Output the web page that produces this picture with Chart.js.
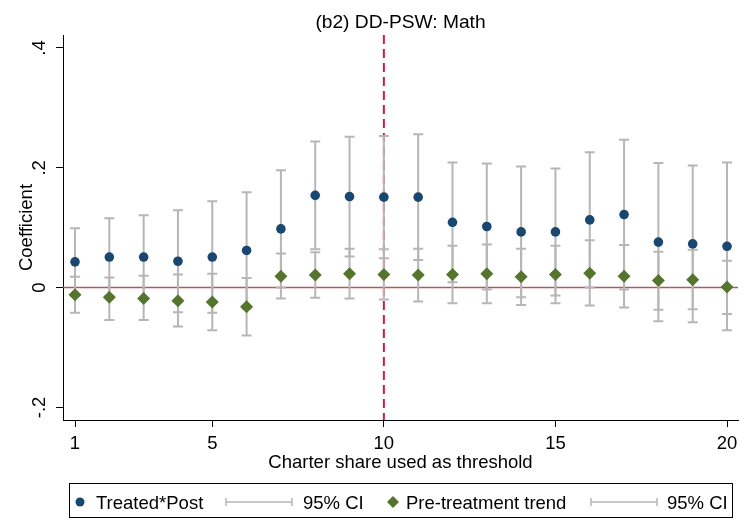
<!DOCTYPE html>
<html><head><meta charset="utf-8">
<script src="https://cdn.jsdelivr.net/npm/chart.js@4.4.0/dist/chart.umd.min.js"></script>
<style>html,body{margin:0;padding:0;background:#fff;} canvas{display:block;}</style>
</head><body>
<canvas id="c" width="746" height="520"></canvas>
<script>
const thresholds = [1,2,3,4,5,6,7,8,9,10,11,12,13,14,15,16,17,18,19,20];
const treatedEst  = [0.043,0.051,0.051,0.044,0.051,0.062,0.098,0.154,0.152,0.151,0.151,0.109,0.102,0.093,0.093,0.113,0.122,0.076,0.073,0.069];
const treatedLow  = [-0.013,-0.014,-0.019,-0.041,-0.042,-0.035,0.000,0.064,0.052,0.049,0.046,0.009,-0.003,-0.016,-0.013,0.000,-0.003,-0.056,-0.058,-0.071];
const treatedHigh = [0.099,0.116,0.121,0.129,0.144,0.159,0.196,0.244,0.252,0.253,0.256,0.209,0.207,0.202,0.199,0.226,0.247,0.208,0.204,0.209];
const preEst  = [-0.012,-0.016,-0.018,-0.022,-0.024,-0.032,0.019,0.021,0.023,0.022,0.021,0.022,0.023,0.018,0.022,0.024,0.019,0.012,0.013,0.001];
const preLow  = [-0.042,-0.054,-0.054,-0.065,-0.071,-0.080,-0.018,-0.017,-0.018,-0.020,-0.023,-0.026,-0.026,-0.029,-0.026,-0.030,-0.033,-0.037,-0.036,-0.044];
const preHigh = [0.018,0.017,0.020,0.022,0.023,0.016,0.057,0.059,0.065,0.064,0.065,0.070,0.072,0.065,0.070,0.079,0.071,0.060,0.063,0.045];
const xTickValues = [1,5,10,15,20];
const xTickLabels = ['1','5','10','15','20'];
const yTickValues = [-0.2,0,0.2,0.4];
const yTickLabels = ['-.2','0','.2','.4'];
const titleText = '(b2) DD-PSW: Math';
const xAxisTitle = 'Charter share used as threshold';
const yAxisTitle = 'Coefficient';
const legendLabels = ['Treated*Post','95% CI','Pre-treatment trend','95% CI'];
const thresholdLine = 10;
const zeroLine = 0;

const FONT = '"Liberation Sans", Arial, sans-serif';
const BLUE = '#1a476f', GREEN = '#55752f', GRAY = '#b6b6b6';

function drawCIs(ctx, xs, ys, lo, hi) {
  ctx.strokeStyle = GRAY; ctx.lineWidth = 2;
  for (let i = 0; i < thresholds.length; i++) {
    const px = xs.getPixelForValue(thresholds[i]);
    const y1 = ys.getPixelForValue(lo[i]);
    const y2 = ys.getPixelForValue(hi[i]);
    ctx.beginPath();
    ctx.moveTo(px, y1); ctx.lineTo(px, y2);
    ctx.moveTo(px - 5, y1); ctx.lineTo(px + 5, y1);
    ctx.moveTo(px - 5, y2); ctx.lineTo(px + 5, y2);
    ctx.stroke();
  }
}

const decor = {
  id: 'decor',
  beforeDatasetsDraw(chart) {
    const {ctx, chartArea: a, scales: {x, y}} = chart;
    ctx.save();
    const y0 = y.getPixelForValue(zeroLine);
    ctx.strokeStyle = '#b5585c'; ctx.lineWidth = 1.5;
    ctx.beginPath(); ctx.moveTo(a.left, y0); ctx.lineTo(a.right, y0); ctx.stroke();
    const xv = x.getPixelForValue(thresholdLine);
    ctx.strokeStyle = '#d11a4a'; ctx.lineWidth = 2; ctx.setLineDash([9, 5]);
    ctx.beginPath(); ctx.moveTo(xv, a.top); ctx.lineTo(xv, a.bottom); ctx.stroke();
    ctx.setLineDash([]);
    drawCIs(ctx, x, y, treatedLow, treatedHigh);
    drawCIs(ctx, x, y, preLow, preHigh);
    ctx.restore();
  },
  afterDraw(chart) {
    const {ctx, chartArea: a, scales: {x, y}} = chart;
    ctx.save();
    ctx.fillStyle = '#000';
    // title
    ctx.font = '19.2px ' + FONT; ctx.textAlign = 'center'; ctx.textBaseline = 'alphabetic';
    ctx.fillText(titleText, (a.left + a.right) / 2, 27.5);
    // x tick labels
    ctx.font = '18.5px ' + FONT;
    xTickValues.forEach((v, i) => ctx.fillText(xTickLabels[i], x.getPixelForValue(v), 449));
    ctx.fillText(xAxisTitle, (a.left + a.right) / 2, 468);
    // y tick labels rotated
    yTickValues.forEach((v, i) => {
      ctx.save();
      ctx.translate(45, y.getPixelForValue(v));
      ctx.rotate(-Math.PI / 2);
      ctx.fillText(yTickLabels[i], 0, 0);
      ctx.restore();
    });
    ctx.save();
    ctx.translate(32, (a.top + a.bottom) / 2);
    ctx.rotate(-Math.PI / 2);
    ctx.fillText(yAxisTitle, 0, 0);
    ctx.restore();
    // legend
    ctx.strokeStyle = '#000'; ctx.lineWidth = 1;
    ctx.strokeRect(69.5, 483.5, 663, 34);
    const ly = 502, lb = 508.5;
    ctx.fillStyle = BLUE;
    ctx.beginPath(); ctx.arc(80, ly, 4.5, 0, Math.PI * 2); ctx.fill();
    ctx.fillStyle = GREEN;
    ctx.beginPath(); ctx.moveTo(393 - 6, ly); ctx.lineTo(393, ly - 6); ctx.lineTo(393 + 6, ly); ctx.lineTo(393, ly + 6); ctx.closePath(); ctx.fill();
    ctx.strokeStyle = GRAY; ctx.lineWidth = 1.5;
    [[226, 292], [591, 657]].forEach(([s, e]) => {
      ctx.beginPath();
      ctx.moveTo(s, ly); ctx.lineTo(e, ly);
      ctx.moveTo(s, ly - 4); ctx.lineTo(s, ly + 4);
      ctx.moveTo(e, ly - 4); ctx.lineTo(e, ly + 4);
      ctx.stroke();
    });
    ctx.fillStyle = '#000'; ctx.textAlign = 'left';
    ctx.font = '18.5px ' + FONT;
    ctx.fillText(legendLabels[0], 96, lb);
    ctx.fillText(legendLabels[1], 303, lb);
    ctx.fillText(legendLabels[2], 406, lb);
    ctx.fillText(legendLabels[3], 667, lb);
    ctx.restore();
  }
};

const axisCommon = {
  type: 'linear',
  ticks: {display: false},
  grid: {display: true, drawOnChartArea: false, drawTicks: true, tickLength: 7, color: '#000', lineWidth: 1},
  border: {display: true, color: '#000', width: 1}
};

new Chart(document.getElementById('c'), {
  type: 'scatter',
  data: {
    datasets: [
      {label: legendLabels[0], data: thresholds.map((t, i) => ({x: t, y: treatedEst[i]})),
       pointStyle: 'circle', pointRadius: 4.8, backgroundColor: BLUE, borderColor: BLUE, borderWidth: 0},
      {label: legendLabels[2], data: thresholds.map((t, i) => ({x: t, y: preEst[i]})),
       pointStyle: 'rectRot', pointRadius: 6.5, backgroundColor: GREEN, borderColor: GREEN, borderWidth: 0}
    ]
  },
  options: {
    responsive: false, animation: false, devicePixelRatio: 1,
    layout: {padding: {top: 35, right: 8, left: 0, bottom: 0}},
    plugins: {legend: {display: false}, tooltip: {enabled: false}, title: {display: false}},
    scales: {
      x: Object.assign({}, axisCommon, {
        min: 0.65, max: 20.32,
        afterBuildTicks(s) { s.ticks = xTickValues.map(v => ({value: v})); },
        afterFit(s) { s.height = 100; }
      }),
      y: Object.assign({}, axisCommon, {
        min: -0.221, max: 0.4217,
        afterBuildTicks(s) { s.ticks = yTickValues.map(v => ({value: v})); },
        afterFit(s) { s.width = 63; }
      })
    }
  },
  plugins: [decor]
});
</script>
</body></html>
